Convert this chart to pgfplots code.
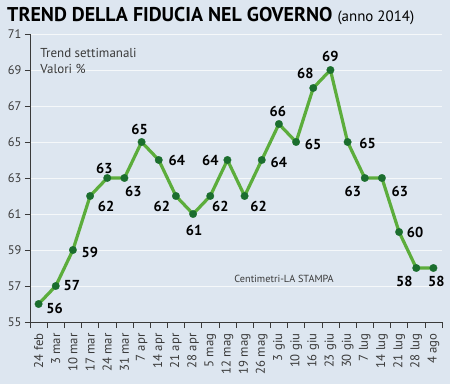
\documentclass[border=0pt]{standalone}
\usepackage{pgfplots}
\pgfplotsset{compat=1.18}
\usepackage{pgfplotstable}
\usepackage{fontspec}
\setmainfont{PT Sans}
\definecolor{bgc}{HTML}{DDE6F0}
\definecolor{lnc}{HTML}{5CAD3C}
\definecolor{mkc}{HTML}{1B6E2E}
\definecolor{txc}{HTML}{3A3A3A}
\pgfplotstableread{
x y dx dy
0 56 16 -4
1 57 16 0
2 59 17 -2
3 62 16 -10
4 63 -3 10
5 63 9 -13
6 65 -2 13
7 64 18 0
8 62 -14 -10
9 61 1 -16
10 62 10 -10
11 64 -17 0
12 62 14 -10
13 64 17 -2
14 66 -1 13
15 65 17 -2
16 68 -8 15
17 69 0 14
18 65 20 -1
19 63 -12 -13
20 63 18 -13
21 60 16 0
22 58 -12 -13
23 58 3 -13
}\datatable
\begin{document}
\begin{tikzpicture}[x=1bp,y=1bp]
\fill[bgc] (0,0) rectangle (450,384);
\begin{axis}[
  at={(30bp,62bp)}, anchor=south west,
  scale only axis, width=412bp, height=288bp,
  xmin=-0.5, xmax=23.5, ymin=55, ymax=71,
  axis x line*=bottom, axis y line*=left,
  axis line style={txc, line width=0.6pt},
  xtick={0,...,23},
  xticklabels={24 feb,3 mar,10 mar,17 mar,24 mar,31 mar,7 apr,14 apr,21 apr,28 apr,5 mag,12 mag,19 mag,26 mag,3 giu,10 giu,16 giu,23 giu,30 giu,7 lug,14 lug,21 lug,28 lug,4 ago},
  minor xtick={-0.5,0.5,...,23.5},
  major x tick style={draw=none},
  minor x tick style={txc, line width=0.6pt},
  minor tick length=6bp,
  ytick={55,57,...,71},
  y tick style={txc, line width=0.6pt},
  major tick length=5bp,
  tick align=outside,
  ymajorgrids,
  major grid style={white!70!bgc, line width=0.7pt},
  x tick label style={rotate=90, anchor=east, font=\fontsize{12.8}{12}\selectfont, text=txc, xshift=-3bp},
  y tick label style={font=\fontsize{12.5}{12}\selectfont, text=txc},
  /pgf/number format/assume math mode=true,
  clip=false,
]
\addplot[lnc, line width=3.2bp, mark=*, mark size=3.8bp, mark options={fill=mkc, draw=mkc, line width=0.2bp, solid},
  nodes near coords,
  visualization depends on={\thisrow{dx} \as \ddx},
  visualization depends on={\thisrow{dy} \as \ddy},
  every node near coord/.append style={anchor=center, xshift=\ddx*1bp, yshift=\ddy*1bp, font=\bfseries\fontsize{14.5}{14}\selectfont, text=black},
] table[x=x, y=y] {\datatable};
\node[anchor=west, align=left, text=txc, font=\fontsize{13}{16}\selectfont] at (axis cs:-0.1,69.5) {Trend settimanali\\Valori \%};
\node[anchor=center, text=txc, font=\fontsize{10.3}{10}\selectfont] at (axis cs:14.3,57.4) {Centimetri-LA STAMPA};
\end{axis}
\node[anchor=base west, inner sep=0] at (7,363) {\fontsize{20}{22}\selectfont\bfseries TREND DELLA FIDUCIA NEL GOVERNO \fontsize{15}{16}\mdseries(anno 2014)};
\pgfresetboundingbox
\useasboundingbox (0,0) rectangle (450,384);
\end{tikzpicture}
\end{document}
